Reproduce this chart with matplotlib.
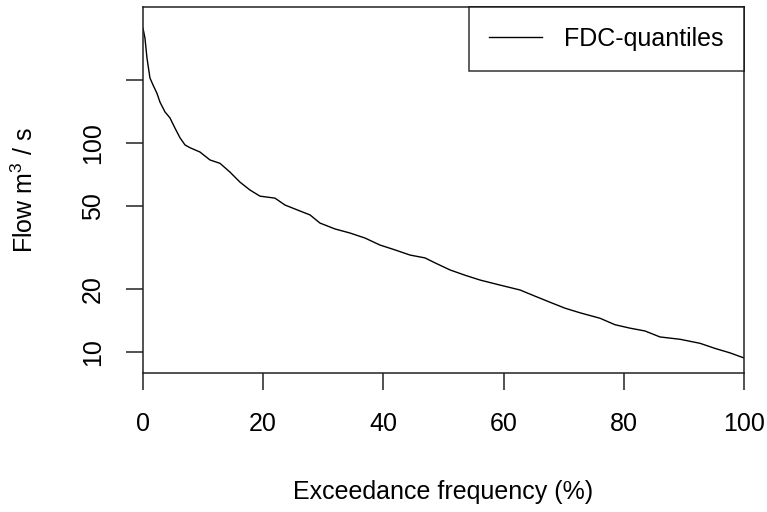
"""
Flow duration curve (FDC quantiles) on a log flow axis.
"""

import matplotlib

matplotlib.use("Agg")
import matplotlib.pyplot as plt
from matplotlib.ticker import FixedLocator, FixedFormatter, NullLocator

# exceedance frequency (%) and flow (m3/s)
exceedance = [0, 0.33, 0.67, 1.16, 1.66, 2.33, 2.83, 3.66, 4.49, 5.32, 6.16,
              6.99, 7.82, 9.48, 11.15, 12.81, 14.48, 16.14, 17.80, 19.47,
              21.96, 23.63, 26.12, 27.79, 29.45, 31.95, 34.44, 36.94, 39.43,
              41.93, 44.43, 46.92, 48.59, 51.08, 53.58, 56.07, 59.40, 62.73,
              65.22, 67.72, 70.22, 72.71, 76.04, 78.54, 81.03, 83.53, 86.02,
              89.35, 92.68, 95.17, 97.67, 100]
flow = [355, 318, 255, 205, 190, 173, 157, 141, 132, 118, 106,
        98, 95, 90.6, 83, 80, 72.6, 65, 59.6, 55.7,
        54.5, 50.5, 47.3, 45.3, 41.4, 38.8, 37.1, 35.1, 32.5,
        30.8, 29.1, 28.2, 26.7, 24.7, 23.3, 22.1, 20.9, 19.8,
        18.5, 17.3, 16.2, 15.4, 14.5, 13.5, 13.0, 12.6, 11.8,
        11.5, 11.0, 10.4, 9.9, 9.36]

y_ticks = [10, 20, 50, 100, 200]
y_tick_labels = ["10", "20", "50", "100", ""]
x_ticks = [0, 20, 40, 60, 80, 100]

plt.rcParams["font.family"] = ["Liberation Sans", "DejaVu Sans"]
plt.rcParams["mathtext.fontset"] = "custom"
plt.rcParams["mathtext.rm"] = "Liberation Sans"
plt.rcParams["mathtext.it"] = "Liberation Sans"

FS = 18

fig = plt.figure(figsize=(7.67, 5.12), dpi=100)
ax = fig.add_axes([0.1864, 0.2715, 0.9700 - 0.1864, 0.9863 - 0.2715])

ax.plot(exceedance, flow, color="black", lw=1.0, label="FDC-quantiles")

ax.set_yscale("log")
ax.set_xlim(0, 100)
ax.set_ylim(7.93, 448)

ax.yaxis.set_major_locator(FixedLocator(y_ticks))
ax.yaxis.set_major_formatter(FixedFormatter(y_tick_labels))
ax.yaxis.set_minor_locator(NullLocator())
ax.set_xticks(x_ticks)

for spine in ax.spines.values():
    spine.set_linewidth(1.1)
    spine.set_color("#222222")

ax.tick_params(axis="both", direction="out", length=12.2, width=1.1,
               color="#222222", labelsize=FS)
ax.tick_params(axis="x", pad=16)
ax.tick_params(axis="y", pad=15)
for lbl in ax.get_yticklabels():
    lbl.set_rotation(90)
    lbl.set_va("center")

ax.set_xlabel("Exceedance frequency (%)", fontsize=FS, va="center")
ax.xaxis.set_label_coords(0.5, -0.325)
ax.set_ylabel(r"Flow m$^3$ / s", fontsize=FS, va="center")
ax.yaxis.set_label_coords(-0.196, 0.5)

leg = ax.legend(loc="upper right", borderaxespad=0, fontsize=FS,
                fancybox=False, borderpad=0.8, handlelength=2.1,
                handletextpad=0.9)
leg.get_frame().set_edgecolor("black")
leg.get_frame().set_linewidth(1.1)

fig.savefig("out.png", dpi=100)
